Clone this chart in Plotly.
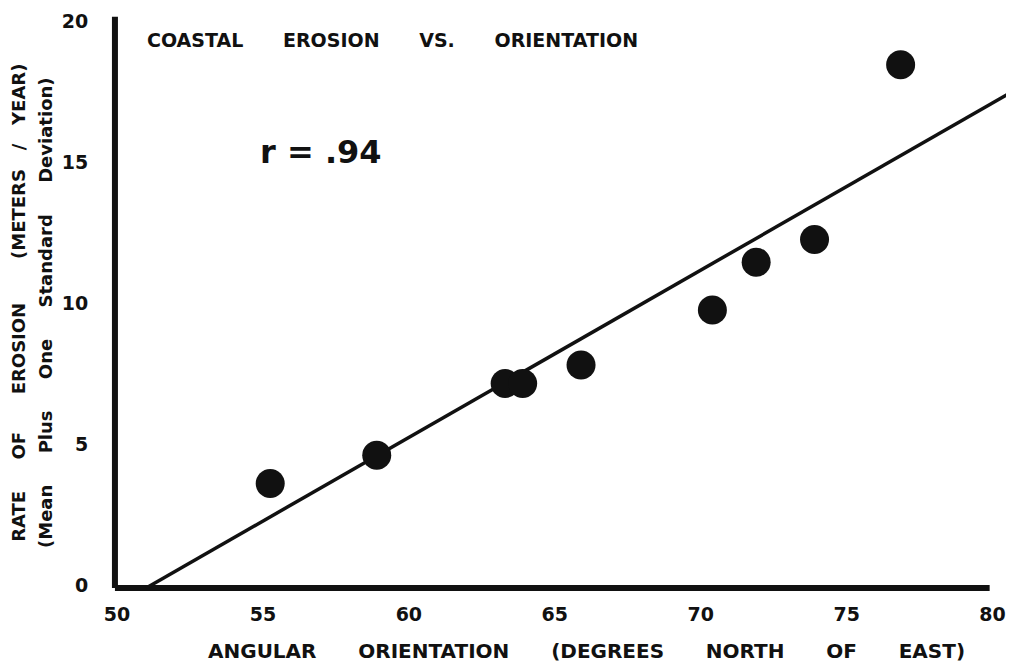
import plotly.graph_objects as go

# Data
orientation = [55.25, 58.9, 63.3, 63.9, 65.9, 70.4, 71.9, 73.9, 76.85]
erosion = [3.6, 4.6, 7.15, 7.15, 7.8, 9.75, 11.45, 12.25, 18.45]
fit_x = [51.0, 80.6]
fit_y = [-0.1, 17.45]
x_ticks = [50, 55, 60, 65, 70, 75, 80]
y_ticks = [0, 5, 10, 15, 20]

INK = "#111111"
WIDE = "DejaVu Sans"
NB = "\u00a0"

fig = go.Figure()

# axis lines
fig.add_trace(go.Scatter(x=[49.93, 79.9], y=[-0.1, -0.1], mode="lines",
                         line=dict(color=INK, width=6), hoverinfo="skip", showlegend=False))
fig.add_trace(go.Scatter(x=[49.93, 49.93], y=[-0.1, 20.15], mode="lines",
                         line=dict(color=INK, width=6), hoverinfo="skip", showlegend=False))
# regression line
fig.add_trace(go.Scatter(x=fit_x, y=fit_y, mode="lines",
                         line=dict(color=INK, width=3.5), showlegend=False))
# points
fig.add_trace(go.Scatter(x=orientation, y=erosion, mode="markers",
                         marker=dict(color=INK, size=29, line=dict(width=0)), showlegend=False))

fig.add_annotation(x=50.96, y=19.33, xref="x", yref="y", xanchor="left", yanchor="middle",
                   text=f"<b>COASTAL{NB*6}EROSION{NB*6}VS.{NB*6}ORIENTATION</b>", showarrow=False,
                   font=dict(family=WIDE, size=19, color=INK))
fig.add_annotation(x=54.83, y=15.35, xref="x", yref="y", xanchor="left", yanchor="middle",
                   text="<b>r = .94</b>", showarrow=False,
                   font=dict(family=WIDE, size=32, color=INK))
fig.add_annotation(x=-0.1025, y=0.497, xref="paper", yref="paper", xanchor="center", yanchor="middle",
                   textangle=-90, showarrow=False,
                   text=f"<b>RATE{NB*5}OF{NB*6}EROSION{NB*7}(METERS{NB*3}/{NB*3}YEAR)</b>",
                   font=dict(family=WIDE, size=18, color=INK))
fig.add_annotation(x=-0.072, y=0.4805, xref="paper", yref="paper", xanchor="center", yanchor="middle",
                   textangle=-90, showarrow=False,
                   text=f"<b>(Mean{NB*5}Plus{NB*5}One{NB*5}Standard{NB*5}Deviation)</b>",
                   font=dict(family=WIDE, size=18, color=INK))
fig.add_annotation(x=0.5277, y=-0.0948, xref="paper", yref="paper", xanchor="center", yanchor="middle",
                   showarrow=False,
                   text=f"<b>ANGULAR{NB*6}ORIENTATION{NB*6}(DEGREES{NB*6}NORTH{NB*6}OF{NB*6}EAST)</b>",
                   font=dict(family=WIDE, size=20, color=INK))

fig.update_layout(
    width=1014, height=670,
    margin=dict(l=103, r=9, t=0, b=83),
    paper_bgcolor="white", plot_bgcolor="white",
    showlegend=False,
    xaxis=dict(range=[49.795, 80.7], tickvals=x_ticks, ticktext=[f"<b>{v}</b>" for v in x_ticks],
               showgrid=False, zeroline=False, showline=False,
               ticks="outside", ticklen=2, tickcolor="rgba(0,0,0,0)",
               tickfont=dict(family=WIDE, size=19, color=INK)),
    yaxis=dict(range=[-0.35, 20.46], tickvals=y_ticks, ticktext=[f"<b>{v}</b>" for v in y_ticks],
               showgrid=False, zeroline=False, showline=False,
               ticks="outside", ticklen=18, tickcolor="rgba(0,0,0,0)",
               tickfont=dict(family=WIDE, size=19, color=INK)),
)

fig.write_html("out.html")
